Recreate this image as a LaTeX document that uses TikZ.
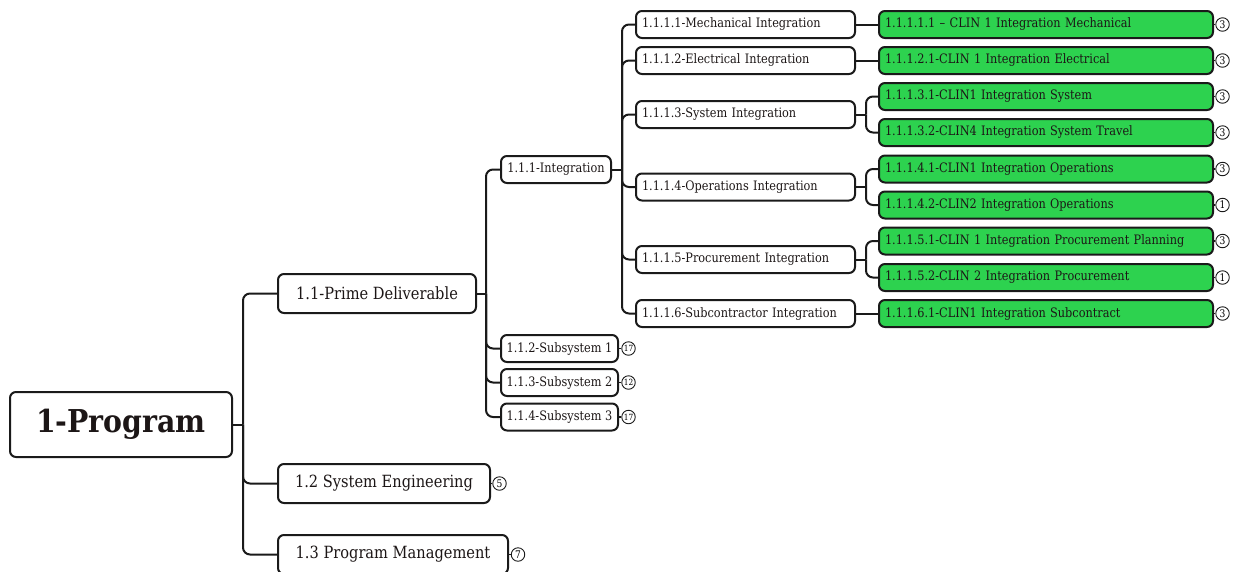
\documentclass[tikz,border=0pt]{standalone}
\usepackage{fontspec}
\setmainfont{DejaVu Serif}[FakeStretch=0.87]
\newfontfamily\rootfont{DejaVu Serif}[FakeStretch=0.9]
\definecolor{linec}{HTML}{1A1A1A}
\definecolor{txtc}{HTML}{1C1616}
\definecolor{leafgreen}{HTML}{2DD24F}
\tikzset{
  box/.style={draw=linec, line width=2pt, rounded corners=6pt, fill=white,
              inner ysep=0pt, text=txtc},
  rootbox/.style={box, minimum width=222pt, minimum height=65pt,
                  font=\rootfont\fontsize{31.5}{34}\selectfont\bfseries},
  lvltwo/.style={box, minimum height=39pt, font=\fontsize{16.8}{20}\selectfont},
  lvlthree/.style={box, minimum height=27pt, font=\fontsize{13}{16}\selectfont},
  lvlfour/.style={box, minimum height=27pt, inner xsep=6pt, text width=207pt,
                  align=left, font=\fontsize{13}{16}\selectfont},
  lvlfive/.style={lvlfour, fill=leafgreen, text width=322pt},
  badge/.style={circle, draw=linec, line width=0.9pt, fill=white, inner sep=0pt,
                minimum size=13.5pt, font=\fontsize{10.5}{11}\selectfont},
  conn/.style={draw=linec, line width=2pt, rounded corners=7pt},
  stub/.style={draw=linec, line width=1.5pt},
}
\begin{document}
\begin{tikzpicture}[x=1pt, y=-1pt]
\useasboundingbox (0,0) rectangle (1234,571);
\clip (0,0) rectangle (1234,571);

% root and first level
\node[rootbox] (root) at (121,424.5) {1-Program};
\node[lvltwo, minimum width=198pt, anchor=west] (n11) at (277,293.5) {1.1-Prime Deliverable};
\node[lvltwo, minimum width=212pt, anchor=west] (n12) at (277,483.5) {1.2 System Engineering};
\node[lvltwo, minimum width=230pt, anchor=west] (n13) at (277,554.5) {1.3 Program Management};
\node[badge] (b12) at (499.5,483.5) {5};
\node[badge] (b13) at (518,554.5) {7};

% second level
\node[lvlthree, minimum width=110pt, anchor=west] (n111) at (500,169.5) {1.1.1-Integration};
\node[lvlthree, minimum width=117pt, anchor=west] (n112) at (500,348.5) {1.1.2-Subsystem 1};
\node[lvlthree, minimum width=117pt, anchor=west] (n113) at (500,382.5) {1.1.3-Subsystem 2};
\node[lvlthree, minimum width=117pt, anchor=west] (n114) at (500,417) {1.1.4-Subsystem 3};
\node[badge, font=\fontsize{8.5}{9}\selectfont] (b112) at (628.5,348.5) {17};
\node[badge, font=\fontsize{8.5}{9}\selectfont] (b113) at (628.5,382.5) {12};
\node[badge, font=\fontsize{8.5}{9}\selectfont] (b114) at (628.5,417) {17};

% integration work packages
\node[lvlfour, anchor=west] (a1) at (635,24.5) {1.1.1.1-Mechanical Integration};
\node[lvlfour, anchor=west] (a2) at (635,60.5) {1.1.1.2-Electrical Integration};
\node[lvlfour, anchor=west] (a3) at (635,114.5) {1.1.1.3-System Integration};
\node[lvlfour, anchor=west] (a4) at (635,187) {1.1.1.4-Operations Integration};
\node[lvlfour, anchor=west] (a5) at (635,259.5) {1.1.1.5-Procurement Integration};
\node[lvlfour, anchor=west] (a6) at (635,313.5) {1.1.1.6-Subcontractor Integration};

% CLIN leaves
\node[lvlfive, anchor=west] (c1) at (878,24.5) {1.1.1.1.1 – CLIN 1 Integration Mechanical};
\node[lvlfive, anchor=west] (c2) at (878,60.5) {1.1.1.2.1-CLIN 1 Integration Electrical};
\node[lvlfive, anchor=west] (c3) at (878,96.5) {1.1.1.3.1-CLIN1 Integration System};
\node[lvlfive, anchor=west] (c4) at (878,132.5) {1.1.1.3.2-CLIN4 Integration System Travel};
\node[lvlfive, anchor=west] (c5) at (878,169) {1.1.1.4.1-CLIN1 Integration Operations};
\node[lvlfive, anchor=west] (c6) at (878,205) {1.1.1.4.2-CLIN2 Integration Operations};
\node[lvlfive, anchor=west] (c7) at (878,241) {1.1.1.5.1-CLIN 1 Integration Procurement Planning};
\node[lvlfive, anchor=west] (c8) at (878,277.5) {1.1.1.5.2-CLIN 2 Integration Procurement};
\node[lvlfive, anchor=west] (c9) at (878,313.5) {1.1.1.6.1-CLIN1 Integration Subcontract};
\foreach \i/\n/\y in {1/3/24.5, 2/3/60.5, 3/3/96.5, 4/3/132.5, 5/3/169, 6/1/205, 7/3/241, 8/1/277.5, 9/3/313.5}
  \node[badge] (bc\i) at (1222.5,\y) {\n};

% trunk junctions
\coordinate (jr) at (243,424.5);
\coordinate (j11) at (486,293.5);
\coordinate (j111) at (622,169.5);
\coordinate (ja3) at (866,114.5);
\coordinate (ja4) at (866,187);
\coordinate (ja5) at (866,259.5);

% connectors
\draw[conn] (root.east) -- (jr);
\foreach \c in {n11,n12,n13} \draw[conn] (jr) |- (\c.west);
\draw[conn] (n11.east) -- (j11);
\foreach \c in {n111,n112,n113,n114} \draw[conn] (j11) |- (\c.west);
\draw[conn] (n111.east) -- (j111);
\foreach \c in {a1,a2,a3,a4,a5,a6} \draw[conn] (j111) |- (\c.west);
\draw[conn] (a1.east) -- (c1.west);
\draw[conn] (a2.east) -- (c2.west);
\draw[conn] (a6.east) -- (c9.west);
\draw[conn] (a3.east) -- (ja3);
\foreach \c in {c3,c4} \draw[conn] (ja3) |- (\c.west);
\draw[conn] (a4.east) -- (ja4);
\foreach \c in {c5,c6} \draw[conn] (ja4) |- (\c.west);
\draw[conn] (a5.east) -- (ja5);
\foreach \c in {c7,c8} \draw[conn] (ja5) |- (\c.west);

% badge stubs
\draw[stub] (n12.east) -- (b12);
\draw[stub] (n13.east) -- (b13);
\draw[stub] (n112.east) -- (b112);
\draw[stub] (n113.east) -- (b113);
\draw[stub] (n114.east) -- (b114);
\foreach \i in {1,...,9} \draw[stub] (c\i.east) -- (bc\i);
\end{tikzpicture}
\end{document}
